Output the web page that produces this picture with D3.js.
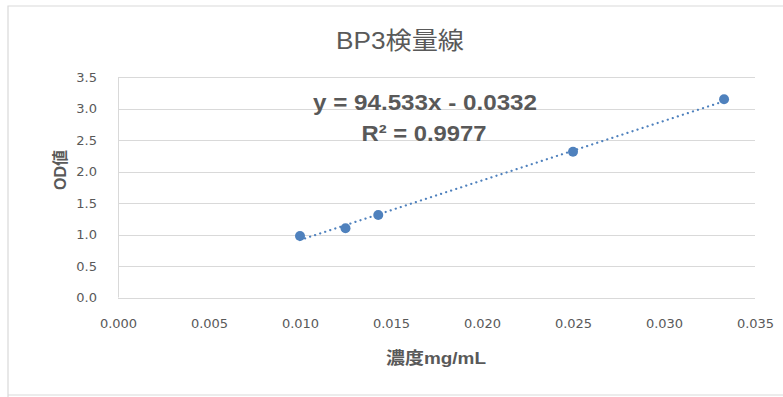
<!DOCTYPE html>
<html>
<head>
<meta charset="utf-8">
<script src="https://cdn.jsdelivr.net/npm/d3@7"></script>
<style>
  html, body { margin: 0; padding: 0; background: #fff; }
  svg { display: block; }
</style>
</head>
<body>
<svg id="chart" width="783" height="397"></svg>
<script>
// Standard curve data: concentration (mg/mL) vs. OD reading
const concentrations = [0.0100, 0.0125, 0.0143, 0.0250, 0.0333];
const odValues = [0.976, 1.098, 1.310, 2.314, 3.146];

// Linear trendline parameters
const slope = 94.533;
const intercept = -0.0332;
const rSquared = 0.9977;

const xTicks = [0, 0.005, 0.01, 0.015, 0.02, 0.025, 0.03, 0.035];
const yTicks = [0, 0.5, 1.0, 1.5, 2.0, 2.5, 3.0, 3.5];

const titleText = "BP3検量線";
const xTitle = "濃度mg/mL";
const yTitle = "OD値";

const svg = d3.select("#chart");
const W = 783, H = 397;
const plot = { left: 118, right: 755, top: 77, bottom: 297.5 };
const textColor = "#595959";
const gridColor = "#d9d9d9";
const markColor = "#4f81bd";
const tickFont = "'DejaVu Sans', sans-serif";
const latin = "'Liberation Sans', Arial, sans-serif";
const cjk = "'Liberation Sans', 'Noto Sans CJK JP', sans-serif";

// Chart frame
svg.append("path")
  .attr("d", `M8,${H} L8,6 L${W},6 M8,395 L${W},395`)
  .attr("fill", "none")
  .attr("stroke", gridColor)
  .attr("stroke-width", 1.2);

const x = d3.scaleLinear().domain([0, 0.035]).range([plot.left, plot.right]);
const y = d3.scaleLinear().domain([0, 3.5]).range([plot.bottom, plot.top]);

// Horizontal gridlines
svg.append("g")
  .selectAll("line")
  .data(yTicks)
  .join("line")
  .attr("x1", plot.left).attr("x2", plot.right)
  .attr("y1", d => Math.round(y(d)) + 0.5).attr("y2", d => Math.round(y(d)) + 0.5)
  .attr("stroke", gridColor).attr("stroke-width", 1);

// Vertical axis line
svg.append("line")
  .attr("x1", plot.left + 0.5).attr("x2", plot.left + 0.5)
  .attr("y1", y(3.5)).attr("y2", y(0))
  .attr("stroke", gridColor).attr("stroke-width", 1);

// Y axis
const yAxis = d3.axisLeft(y).tickValues(yTicks).tickFormat(d3.format(".1f")).tickSize(0).tickPadding(21);
const gy = svg.append("g").attr("transform", `translate(${plot.left},0)`).call(yAxis);
gy.select(".domain").remove();
gy.selectAll("text")
  .attr("fill", textColor)
  .style("font-family", tickFont)
  .style("font-size", "13px");

// X axis
const xAxis = d3.axisBottom(x).tickValues(xTicks).tickFormat(d3.format(".3f")).tickSize(0).tickPadding(21);
const gx = svg.append("g").attr("transform", `translate(0,${plot.bottom})`).call(xAxis);
gx.select(".domain").remove();
gx.selectAll("text")
  .attr("fill", textColor)
  .style("font-family", tickFont)
  .style("font-size", "13px");

// Title
svg.append("text")
  .attr("x", 400).attr("y", 49)
  .attr("text-anchor", "middle")
  .attr("fill", textColor)
  .style("font-family", cjk)
  .style("font-size", "24px")
  .attr("textLength", 128)
  .attr("lengthAdjust", "spacingAndGlyphs")
  .text(titleText);

// Axis titles
svg.append("text")
  .attr("x", 436).attr("y", 364)
  .attr("text-anchor", "middle")
  .attr("fill", textColor)
  .style("font-family", cjk)
  .style("font-size", "17px")
  .style("font-weight", "bold")
  .attr("textLength", 100)
  .attr("lengthAdjust", "spacingAndGlyphs")
  .text(xTitle);

svg.append("text")
  .attr("transform", "translate(66,170) rotate(-90)")
  .attr("text-anchor", "middle")
  .attr("fill", textColor)
  .style("font-family", cjk)
  .style("font-size", "16px")
  .style("font-weight", "bold")
  .text(yTitle);

// Linear trendline over the data range
const xMin = d3.min(concentrations), xMax = d3.max(concentrations);
svg.append("line")
  .attr("x1", x(xMin)).attr("y1", y(slope * xMin + intercept))
  .attr("x2", x(xMax)).attr("y2", y(slope * xMax + intercept))
  .attr("stroke", markColor)
  .attr("stroke-width", 2.2)
  .attr("stroke-linecap", "round")
  .attr("stroke-dasharray", "0.1,5.2");

// Data points
svg.append("g")
  .selectAll("circle")
  .data(concentrations.map((c, i) => [c, odValues[i]]))
  .join("circle")
  .attr("cx", d => x(d[0]))
  .attr("cy", d => y(d[1]))
  .attr("r", 5)
  .attr("fill", markColor);

// Trendline equation and R²
const eq = svg.append("g")
  .attr("fill", textColor)
  .style("font-family", latin)
  .style("font-size", "22px")
  .style("font-weight", "bold")
  .attr("text-anchor", "middle");
const sign = intercept < 0 ? "-" : "+";
eq.append("text").attr("x", 425).attr("y", 110)
  .attr("textLength", 224)
  .attr("lengthAdjust", "spacingAndGlyphs")
  .text(`y = ${slope}x ${sign} ${Math.abs(intercept)}`);
eq.append("text").attr("x", 424).attr("y", 141)
  .attr("textLength", 125)
  .attr("lengthAdjust", "spacingAndGlyphs")
  .text(`R² = ${rSquared}`);
</script>
</body>
</html>
